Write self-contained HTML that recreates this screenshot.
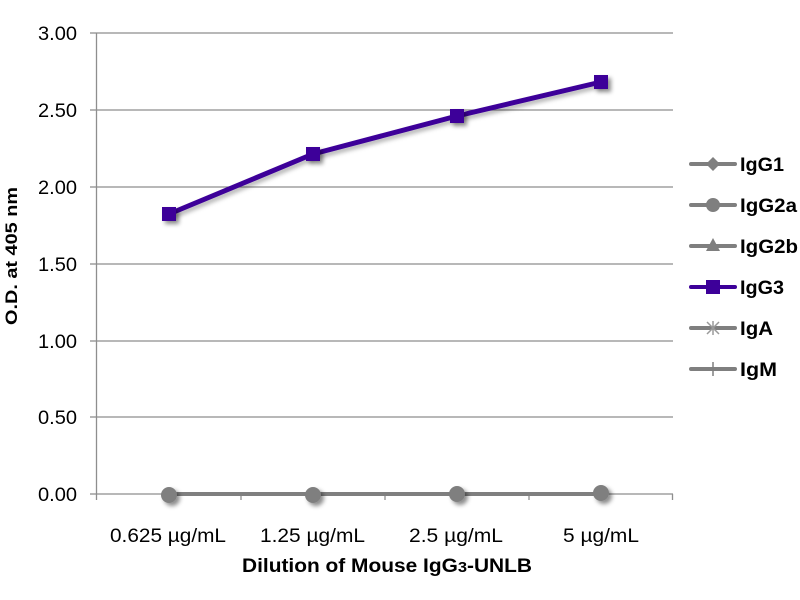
<!DOCTYPE html>
<html>
<head>
<meta charset="utf-8">
<style>
  html, body { margin: 0; padding: 0; background: #ffffff; }
  svg { display: block; }
  text { font-family: "Liberation Sans", sans-serif; }
</style>
</head>
<body>
<svg width="800" height="600" viewBox="0 0 800 600" xmlns="http://www.w3.org/2000/svg">
  <defs>
    <filter id="sh" x="-50%" y="-50%" width="200%" height="200%">
      <feDropShadow dx="3" dy="3" stdDeviation="2" flood-color="#000" flood-opacity="0.45"/>
    </filter>
    <filter id="shl" x="-10%" y="-50%" width="120%" height="200%">
      <feDropShadow dx="2" dy="3" stdDeviation="2" flood-color="#000" flood-opacity="0.3"/>
    </filter>
  </defs>

  <!-- gridlines -->
  <g stroke="#8e8e8e" stroke-width="1.3">
    <line x1="96" y1="33" x2="673" y2="33"/>
    <line x1="96" y1="110" x2="673" y2="110"/>
    <line x1="96" y1="187" x2="673" y2="187"/>
    <line x1="96" y1="264" x2="673" y2="264"/>
    <line x1="96" y1="341" x2="673" y2="341"/>
    <line x1="96" y1="417" x2="673" y2="417"/>
  </g>
  <!-- axes -->
  <g stroke="#8e8e8e" stroke-width="1.3">
    <line x1="96.5" y1="33" x2="96.5" y2="494"/>
    <line x1="96" y1="494" x2="673" y2="494"/>
    <line x1="90" y1="33" x2="96" y2="33"/>
    <line x1="90" y1="110" x2="96" y2="110"/>
    <line x1="90" y1="187" x2="96" y2="187"/>
    <line x1="90" y1="264" x2="96" y2="264"/>
    <line x1="90" y1="341" x2="96" y2="341"/>
    <line x1="90" y1="417" x2="96" y2="417"/>
    <line x1="90" y1="494" x2="96" y2="494"/>
    <line x1="96.5" y1="494" x2="96.5" y2="500"/>
    <line x1="241" y1="494" x2="241" y2="500"/>
    <line x1="385" y1="494" x2="385" y2="500"/>
    <line x1="529" y1="494" x2="529" y2="500"/>
    <line x1="672.5" y1="494" x2="672.5" y2="500"/>
  </g>

  <!-- y tick labels -->
  <g font-size="19" fill="#000">
    <text x="38" y="40" textLength="39" lengthAdjust="spacingAndGlyphs">3.00</text>
    <text x="38" y="117" textLength="39" lengthAdjust="spacingAndGlyphs">2.50</text>
    <text x="38" y="194" textLength="39" lengthAdjust="spacingAndGlyphs">2.00</text>
    <text x="38" y="271" textLength="39" lengthAdjust="spacingAndGlyphs">1.50</text>
    <text x="38" y="348" textLength="39" lengthAdjust="spacingAndGlyphs">1.00</text>
    <text x="38" y="424" textLength="39" lengthAdjust="spacingAndGlyphs">0.50</text>
    <text x="38" y="501" textLength="39" lengthAdjust="spacingAndGlyphs">0.00</text>
  </g>

  <!-- x tick labels -->
  <g font-size="19" fill="#000">
    <text x="110" y="542" textLength="116" lengthAdjust="spacingAndGlyphs">0.625 µg/mL</text>
    <text x="260" y="542" textLength="105" lengthAdjust="spacingAndGlyphs">1.25 µg/mL</text>
    <text x="409" y="542" textLength="94" lengthAdjust="spacingAndGlyphs">2.5 µg/mL</text>
    <text x="563" y="542" textLength="76" lengthAdjust="spacingAndGlyphs">5 µg/mL</text>
  </g>

  <!-- axis titles -->
  <text x="242" y="572" font-size="19" font-weight="bold" fill="#000" textLength="290" lengthAdjust="spacingAndGlyphs">Dilution of Mouse IgG<tspan font-size="15">3</tspan>-UNLB</text>
  <text transform="translate(17,256) rotate(-90)" font-size="17" font-weight="bold" text-anchor="middle" fill="#000" textLength="138" lengthAdjust="spacingAndGlyphs">O.D. at 405 nm</text>

  <!-- gray series (near zero) -->
  <g filter="url(#shl)">
    <polyline points="169,495 313,495 457,494 601,493" fill="none" stroke="#7f7f7f" stroke-width="6"/>
  </g>
  <g fill="#7f7f7f" filter="url(#sh)">
    <circle cx="169" cy="495" r="8"/>
    <circle cx="313" cy="495" r="8"/>
    <circle cx="457" cy="494" r="8"/>
    <circle cx="601" cy="493" r="8"/>
  </g>

  <!-- IgG3 series -->
  <g filter="url(#shl)">
    <polyline points="169,214 313,154 457,116 601,82" fill="none" stroke="#3d0099" stroke-width="5" stroke-linejoin="round"/>
  </g>
  <g fill="#3d0099" filter="url(#sh)">
    <rect x="162" y="207" width="14" height="14"/>
    <rect x="306" y="147" width="14" height="14"/>
    <rect x="450" y="109" width="14" height="14"/>
    <rect x="594" y="75" width="14" height="14"/>
  </g>

  <!-- legend -->
  <g stroke-width="4" stroke-linecap="round">
    <line x1="691" y1="164" x2="735" y2="164" stroke="#7f7f7f"/>
    <line x1="691" y1="205" x2="735" y2="205" stroke="#7f7f7f"/>
    <line x1="691" y1="246" x2="735" y2="246" stroke="#7f7f7f"/>
    <line x1="691" y1="287" x2="735" y2="287" stroke="#3d0099"/>
    <line x1="691" y1="328" x2="735" y2="328" stroke="#7f7f7f"/>
    <line x1="691" y1="369" x2="735" y2="369" stroke="#7f7f7f"/>
  </g>
  <polygon points="713,157 720,164 713,171 706,164" fill="#7f7f7f"/>
  <circle cx="713" cy="205" r="7" fill="#7f7f7f"/>
  <polygon points="713,238 720,251 706,251" fill="#7f7f7f"/>
  <rect x="706" y="280" width="14" height="14" fill="#3d0099"/>
  <g stroke="#9a9a9a" stroke-width="1.5">
    <line x1="707" y1="322" x2="719" y2="334"/>
    <line x1="707" y1="334" x2="719" y2="322"/>
    <line x1="713" y1="321" x2="713" y2="335"/>
  </g>
  <line x1="713" y1="362" x2="713" y2="376" stroke="#7f7f7f" stroke-width="1.5"/>

  <g font-size="19" font-weight="bold" fill="#000">
    <text x="740" y="171" textLength="44" lengthAdjust="spacingAndGlyphs">IgG1</text>
    <text x="740" y="212" textLength="57" lengthAdjust="spacingAndGlyphs">IgG2a</text>
    <text x="740" y="253" textLength="58" lengthAdjust="spacingAndGlyphs">IgG2b</text>
    <text x="740" y="294" textLength="44" lengthAdjust="spacingAndGlyphs">IgG3</text>
    <text x="740" y="335" textLength="33" lengthAdjust="spacingAndGlyphs">IgA</text>
    <text x="740" y="376" textLength="37" lengthAdjust="spacingAndGlyphs">IgM</text>
  </g>
</svg>
</body>
</html>
